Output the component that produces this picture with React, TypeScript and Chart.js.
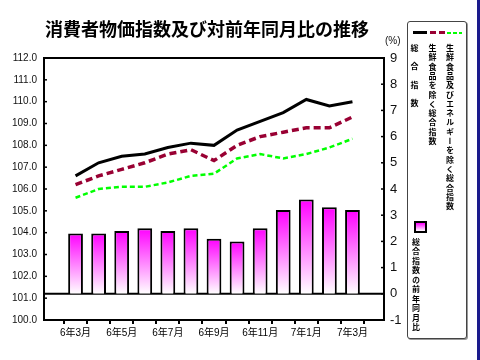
import React, { useEffect, useRef } from "react";
import { Chart, registerables } from "chart.js";

Chart.register(...registerables);

const categories = ["6年3月", "6年4月", "6年5月", "6年6月", "6年7月", "6年8月", "6年9月", "6年10月", "6年11月", "6年12月", "7年1月", "7年2月", "7年3月"];
const totalIndex = [106.6, 107.2, 107.5, 107.6, 107.9, 108.1, 108.0, 108.7, 109.1, 109.5, 110.1, 109.8, 110.0];
const exFreshIndex = [106.2, 106.6, 106.9, 107.2, 107.6, 107.8, 107.3, 108.0, 108.4, 108.6, 108.8, 108.8, 109.3];
const exFreshEnergyIndex = [105.6, 106.0, 106.1, 106.1, 106.3, 106.6, 106.7, 107.4, 107.6, 107.4, 107.6, 107.9, 108.3];
const totalYoY = [2.3, 2.3, 2.4, 2.5, 2.4, 2.5, 2.1, 2.0, 2.5, 3.2, 3.6, 3.3, 3.2];

const leftTicks = [100, 101, 102, 103, 104, 105, 106, 107, 108, 109, 110, 111, 112];
const rightTicks = [-1, 0, 1, 2, 3, 4, 5, 6, 7, 8, 9];

const title = "消費者物価指数及び対前年同月比の推移";
const legendTotal = "総合指数";
const legendExFresh = "生鮮食品を除く総合指数";
const legendExFreshEnergy = "生鮮食品及びエネルギーを除く総合指数";
const legendYoY = "総合指数の前年同月比";

const FONT = "'Liberation Sans', Arial, 'Noto Sans CJK JP', sans-serif";

const framePlugin = {
  id: "frame",
  beforeDatasetsDraw(chart: any) {
    const { ctx, chartArea, scales } = chart;
    const y0 = scales.y2.getPixelForValue(0);
    ctx.save();
    ctx.strokeStyle = "#000";
    ctx.lineWidth = 2;
    ctx.beginPath();
    ctx.moveTo(chartArea.left, y0);
    ctx.lineTo(chartArea.right, y0);
    ctx.stroke();
    ctx.restore();
  },
  afterDraw(chart: any) {
    const { ctx, chartArea, scales } = chart;
    ctx.save();
    ctx.strokeStyle = "#000";
    ctx.lineWidth = 1.5;
    scales.y.ticks.forEach((t: any) => {
      const y = scales.y.getPixelForValue(t.value);
      ctx.beginPath();
      ctx.moveTo(chartArea.left, y);
      ctx.lineTo(chartArea.left + 3, y);
      ctx.stroke();
    });
    scales.y2.ticks.forEach((t: any) => {
      const y = scales.y2.getPixelForValue(t.value);
      ctx.beginPath();
      ctx.moveTo(chartArea.right - 3, y);
      ctx.lineTo(chartArea.right, y);
      ctx.stroke();
    });
    ctx.lineWidth = 2;
    ctx.strokeRect(chartArea.left, chartArea.top, chartArea.right - chartArea.left, chartArea.bottom - chartArea.top);
    ctx.restore();
  },
};

function App() {
  const ref = useRef<HTMLCanvasElement>(null);
  useEffect(() => {
    if (!ref.current) return;
    const pts = (arr: number[]) => arr.map((v, i) => ({ x: i, y: v }));
    const chart = new Chart(ref.current, {
      type: "bar",
      data: {
        datasets: [
          {
            type: "line",
            label: legendTotal,
            data: pts(totalIndex),
            yAxisID: "y",
            borderColor: "#000",
            borderWidth: 3,
            pointRadius: 0,
            tension: 0,
          } as any,
          {
            type: "line",
            label: legendExFresh,
            data: pts(exFreshIndex),
            yAxisID: "y",
            borderColor: "#990033",
            borderWidth: 3.5,
            borderDash: [7, 4],
            pointRadius: 0,
            tension: 0,
          },
          {
            type: "line",
            label: legendExFreshEnergy,
            data: pts(exFreshEnergyIndex),
            yAxisID: "y",
            borderColor: "#00FF00",
            borderWidth: 2.5,
            borderDash: [5, 3],
            pointRadius: 0,
            tension: 0,
          },
          {
            type: "bar",
            label: legendYoY,
            data: pts(totalYoY),
            yAxisID: "y2",
            borderColor: "#000",
            borderWidth: 2,
            borderSkipped: "bottom",
            barPercentage: 0.64,
            categoryPercentage: 1,
            backgroundColor: (c: any) => {
              const chart = c.chart;
              const sc = chart.scales && chart.scales.y2;
              if (!sc || c.type !== "data" || !c.parsed) return "#FF00FF";
              const top = sc.getPixelForValue(c.parsed.y);
              const base = sc.getPixelForValue(0);
              if (!isFinite(top) || !isFinite(base) || top === base) return "#FF00FF";
              const g = chart.ctx.createLinearGradient(0, top, 0, base);
              g.addColorStop(0, "#FF00FF");
              g.addColorStop(1, "#FFFFFF");
              return g;
            },
          },
        ],
      },
      options: {
        responsive: false,
        animation: false,
        devicePixelRatio: 1,
        layout: { padding: { top: 58, left: 0, right: 0, bottom: 0 } },
        plugins: { legend: { display: false }, tooltip: { enabled: false } },
        scales: {
          x: {
            type: "linear",
            min: -0.8,
            max: 12.8,
            afterBuildTicks: (s: any) => {
              s.ticks = categories.map((_, i) => ({ value: i }));
            },
            afterFit: (s: any) => {
              s.height = 40;
            },
            border: { display: false },
            grid: { drawOnChartArea: false, drawTicks: true, tickLength: 4, color: "#000", lineWidth: 2 },
            ticks: {
              padding: 3,
              maxRotation: 0,
              autoSkip: false,
              color: "#000",
              font: { family: FONT, size: 10 },
              callback: (v: any) => (Number(v) % 2 === 0 ? categories[Number(v)] : ""),
            },
          },
          y: {
            position: "left",
            min: 100,
            max: 112,
            afterBuildTicks: (s: any) => {
              s.ticks = leftTicks.map((v) => ({ value: v }));
            },
            afterFit: (s: any) => {
              s.width = 44;
            },
            border: { display: false },
            grid: { display: false, drawTicks: false },
            ticks: {
              padding: 7,
              color: "#111",
              font: { family: FONT, size: 10 },
              callback: (v: any) => Number(v).toFixed(1),
            },
          },
          y2: {
            position: "right",
            min: -1,
            max: 9,
            afterBuildTicks: (s: any) => {
              s.ticks = rightTicks.map((v) => ({ value: v }));
            },
            afterFit: (s: any) => {
              s.width = 96;
            },
            border: { display: false },
            grid: { display: false, drawTicks: false },
            ticks: {
              padding: 6,
              color: "#111",
              font: { family: "'Liberation Sans Narrow', 'Liberation Sans', Arial, sans-serif", size: 13 },
              callback: (v: any) => String(v),
            },
          },
        },
      },
      plugins: [framePlugin],
    } as any);
    return () => chart.destroy();
  }, []);

  const vcol = (text: string, left: number, top: number, spacing: number): React.CSSProperties => ({
    position: "absolute",
    left,
    top,
    writingMode: "vertical-rl",
    fontFamily: "'Noto Sans CJK JP', sans-serif",
    fontWeight: 700,
    fontSize: 8,
    lineHeight: "8px",
    letterSpacing: spacing,
    color: "#000",
    whiteSpace: "nowrap",
  });

  return (
    <div style={{ position: "fixed", left: 0, top: 0, width: 480, height: 360, background: "#fff", overflow: "hidden" }}>
      <canvas ref={ref} width={480} height={360} style={{ position: "absolute", left: 0, top: 0, width: 480, height: 360 }} />
      <div
        style={{
          position: "absolute",
          left: 42,
          width: 330,
          top: 18,
          textAlign: "center",
          fontFamily: "'Noto Sans CJK JP', sans-serif",
          fontWeight: 700,
          fontSize: 18,
          lineHeight: "20px",
          color: "#000",
          whiteSpace: "nowrap",
        }}
      >
        {title}
      </div>
      <div style={{ position: "absolute", left: 385, top: 35, fontFamily: FONT, fontSize: 10, color: "#111" }}>(%)</div>
      <div
        style={{
          position: "absolute",
          left: 407,
          top: 21,
          width: 58,
          height: 316,
          border: "1px solid #444",
          borderRadius: 3,
          boxShadow: "1px 1px 0 #999",
          background: "#fff",
        }}
      />
      <div style={{ position: "absolute", left: 413, top: 31, width: 14, height: 3, background: "#000" }} />
      <div style={{ position: "absolute", left: 430, top: 31, width: 6, height: 3, background: "#990033" }} />
      <div style={{ position: "absolute", left: 439, top: 31, width: 6, height: 3, background: "#990033" }} />
      <div style={{ position: "absolute", left: 447, top: 31.5, width: 4, height: 2.5, background: "#00FF00" }} />
      <div style={{ position: "absolute", left: 453, top: 31.5, width: 4, height: 2.5, background: "#00FF00" }} />
      <div style={{ position: "absolute", left: 459, top: 31.5, width: 3, height: 2.5, background: "#00FF00" }} />
      <div style={vcol(legendTotal, 410, 44, 10.3)}>{legendTotal}</div>
      <div style={vcol(legendExFresh, 428, 44, 1.3)}>{legendExFresh}</div>
      <div style={vcol(legendExFreshEnergy, 445.5, 44, 1.3)}>{legendExFreshEnergy}</div>
      <div
        style={{
          position: "absolute",
          left: 414,
          top: 221,
          width: 9,
          height: 8,
          border: "2px solid #000",
          background: "linear-gradient(#FF00FF, #FFFFFF)",
        }}
      />
      <div style={vcol(legendYoY, 411.5, 237.5, 1.44)}>{legendYoY}</div>
      <div style={{ position: "absolute", left: 477, top: 0, width: 3, height: 360, background: "#1a1a8c" }} />
    </div>
  );
}

export default App;
